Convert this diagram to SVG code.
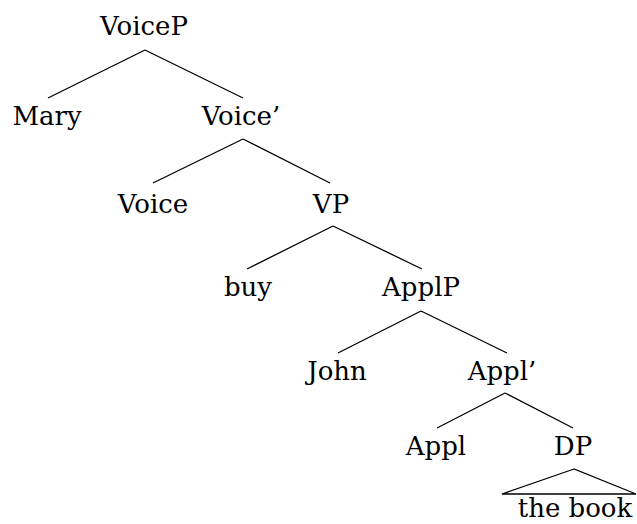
<svg xmlns="http://www.w3.org/2000/svg" width="637" height="524" viewBox="0 0 637 524">
<style>
text{font-family:'DejaVu Serif','Liberation Serif',serif;font-size:26px;fill:#000;text-anchor:middle}
.e{stroke:#000;stroke-width:1.3;fill:none}
</style>
<rect width="637" height="524" fill="#fff"/>
<g id="edges">
<path class="e" d="M145,50 L48,98 M145,50 L243,98"/>
<path class="e" d="M243,139 L153,183 M243,139 L330,183"/>
<path class="e" d="M333,226 L247,269 M333,226 L422,269"/>
<path class="e" d="M421,311 L338,353 M421,311 L507,353"/>
<path class="e" d="M505,393 L437,428 M505,393 L573,428"/>
<path class="e" d="M574,469 L502,494 L636,494 Z"/>
</g>
<g id="n-VoiceP"><text x="144" y="35">VoiceP</text></g>
<g id="n-Mary"><text x="47" y="125">Mary</text></g>
<g id="n-Voicebar"><text x="241" y="125">Voice’</text></g>
<g id="n-Voice"><text x="153" y="213">Voice</text></g>
<g id="n-VP"><text x="331" y="213">VP</text></g>
<g id="n-buy"><text x="248" y="296">buy</text></g>
<g id="n-ApplP"><text x="421" y="296">ApplP</text></g>
<g id="n-John"><text x="337" y="380">John</text></g>
<g id="n-Applbar"><text x="502" y="380">Appl’</text></g>
<g id="n-Appl"><text x="436" y="455">Appl</text></g>
<g id="n-DP"><text x="573" y="455">DP</text></g>
<g id="n-thebook"><text x="575" y="517">the book</text></g>
</svg>
